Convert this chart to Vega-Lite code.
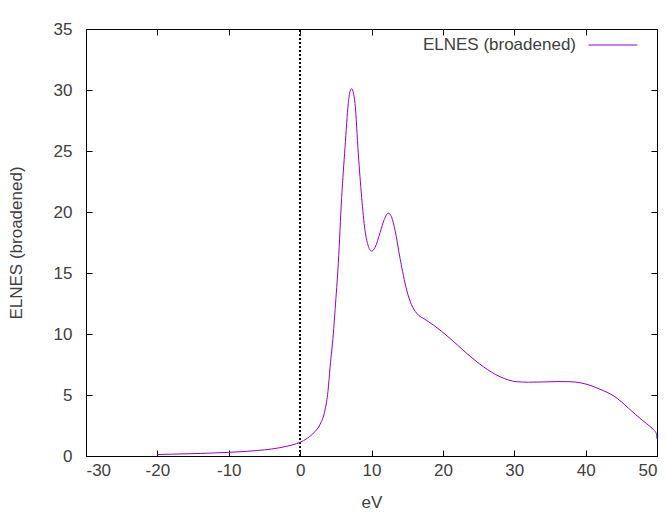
{
  "$schema": "https://vega.github.io/schema/vega-lite/v6.json",
  "width": 571,
  "height": 427,
  "padding": {"left": 86, "top": 29, "right": 9, "bottom": 56},
  "autosize": {"type": "none"},
  "background": "white",
  "config": {
    "view": {"stroke": null},
    "font": "Liberation Sans",
    "axis": {
      "grid": false,
      "domainColor": "black",
      "domainWidth": 1,
      "tickColor": "black",
      "tickWidth": 1,
      "tickSize": -6,
      "labelFont": "Liberation Sans",
      "labelFontSize": 17,
      "labelColor": "#404040",
      "labelExpr": "'' + datum.value",
      "titleFont": "Liberation Sans",
      "titleFontSize": 17,
      "titleFontWeight": "normal",
      "titleColor": "#404040"
    },
    "legend": {
      "labelFont": "Liberation Sans",
      "labelFontSize": 17,
      "labelColor": "#404040"
    }
  },
  "data": {
    "values": [
      {"eV": -20, "ELNES": 0.12},
      {"eV": -18, "ELNES": 0.15},
      {"eV": -16, "ELNES": 0.18},
      {"eV": -14, "ELNES": 0.21},
      {"eV": -12, "ELNES": 0.25},
      {"eV": -10, "ELNES": 0.3},
      {"eV": -8, "ELNES": 0.36},
      {"eV": -6, "ELNES": 0.45},
      {"eV": -4, "ELNES": 0.57},
      {"eV": -2, "ELNES": 0.78},
      {"eV": -1, "ELNES": 0.92},
      {"eV": 0, "ELNES": 1.12},
      {"eV": 1, "ELNES": 1.45},
      {"eV": 2, "ELNES": 1.95},
      {"eV": 2.8, "ELNES": 2.6},
      {"eV": 3.5, "ELNES": 3.8},
      {"eV": 3.9, "ELNES": 5.3},
      {"eV": 4.2, "ELNES": 7.3},
      {"eV": 4.65, "ELNES": 10.0},
      {"eV": 4.9, "ELNES": 12.0},
      {"eV": 5.35, "ELNES": 15.8},
      {"eV": 5.82, "ELNES": 21.2},
      {"eV": 6.29, "ELNES": 25.3},
      {"eV": 6.75, "ELNES": 28.9},
      {"eV": 7.0, "ELNES": 29.9},
      {"eV": 7.22, "ELNES": 30.1},
      {"eV": 7.45, "ELNES": 29.8},
      {"eV": 7.69, "ELNES": 28.9},
      {"eV": 8.15, "ELNES": 24.8},
      {"eV": 8.62, "ELNES": 21.2},
      {"eV": 9.09, "ELNES": 18.5},
      {"eV": 9.5, "ELNES": 17.3},
      {"eV": 10.0, "ELNES": 16.8},
      {"eV": 10.5, "ELNES": 17.1},
      {"eV": 11.2, "ELNES": 18.3},
      {"eV": 11.8, "ELNES": 19.4},
      {"eV": 12.36, "ELNES": 19.9},
      {"eV": 12.8, "ELNES": 19.6},
      {"eV": 13.3, "ELNES": 18.5},
      {"eV": 14.0, "ELNES": 16.2},
      {"eV": 14.93, "ELNES": 13.6},
      {"eV": 15.6, "ELNES": 12.4},
      {"eV": 16.33, "ELNES": 11.7},
      {"eV": 17.5, "ELNES": 11.2},
      {"eV": 18.66, "ELNES": 10.74},
      {"eV": 21.0, "ELNES": 9.64},
      {"eV": 23.33, "ELNES": 8.42},
      {"eV": 25.67, "ELNES": 7.32},
      {"eV": 28.0, "ELNES": 6.5},
      {"eV": 30.34, "ELNES": 6.09},
      {"eV": 32.0, "ELNES": 6.05},
      {"eV": 34.07, "ELNES": 6.07},
      {"eV": 36.0, "ELNES": 6.1},
      {"eV": 37.8, "ELNES": 6.09},
      {"eV": 39.5, "ELNES": 5.97},
      {"eV": 40.6, "ELNES": 5.8},
      {"eV": 42.0, "ELNES": 5.48},
      {"eV": 43.0, "ELNES": 5.22},
      {"eV": 44.0, "ELNES": 4.9},
      {"eV": 45.0, "ELNES": 4.45},
      {"eV": 46.0, "ELNES": 3.92},
      {"eV": 47.0, "ELNES": 3.4},
      {"eV": 48.0, "ELNES": 2.9},
      {"eV": 49.0, "ELNES": 2.43},
      {"eV": 49.6, "ELNES": 2.1},
      {"eV": 49.9, "ELNES": 1.85},
      {"eV": 50.0, "ELNES": 1.4}
    ]
  },
  "layer": [
    {
      "mark": {"type": "rule", "color": "black", "strokeWidth": 1, "strokeDash": [2, 2]},
      "encoding": {
        "x": {
          "datum": 0,
          "type": "quantitative",
          "axis": {"orient": "top", "labels": false, "title": null, "values": [-30, -20, -10, 0, 10, 20, 30, 40, 50]}
        },
        "y": {
          "datum": 0,
          "type": "quantitative",
          "axis": {"orient": "right", "labels": false, "title": null, "values": [0, 5, 10, 15, 20, 25, 30, 35]}
        },
        "y2": {"datum": 35}
      }
    },
    {
      "mark": {"type": "line", "strokeWidth": 1, "interpolate": "monotone"},
      "encoding": {
        "x": {
          "field": "eV",
          "type": "quantitative",
          "scale": {"domain": [-30, 50], "nice": false, "zero": false},
          "axis": {"orient": "bottom", "title": "eV", "values": [-30, -20, -10, 0, 10, 20, 30, 40, 50], "labelPadding": 12, "titlePadding": 16}
        },
        "y": {
          "field": "ELNES",
          "type": "quantitative",
          "scale": {"domain": [0, 35], "nice": false},
          "axis": {"orient": "left", "title": "ELNES (broadened)", "values": [0, 5, 10, 15, 20, 25, 30, 35], "labelPadding": 20, "titlePadding": 28}
        },
        "color": {
          "datum": "ELNES (broadened)",
          "type": "nominal",
          "scale": {"range": ["#9400d3"]},
          "legend": {
            "title": null,
            "orient": "none",
            "legendX": 502,
            "legendY": -9,
            "padding": 0,
            "symbolType": "stroke",
            "symbolSize": 2401,
            "symbolStrokeWidth": 1,
            "labelAlign": "right",
            "labelOffset": -62
          }
        }
      }
    }
  ],
  "resolve": {"axis": {"x": "independent", "y": "independent"}}
}
